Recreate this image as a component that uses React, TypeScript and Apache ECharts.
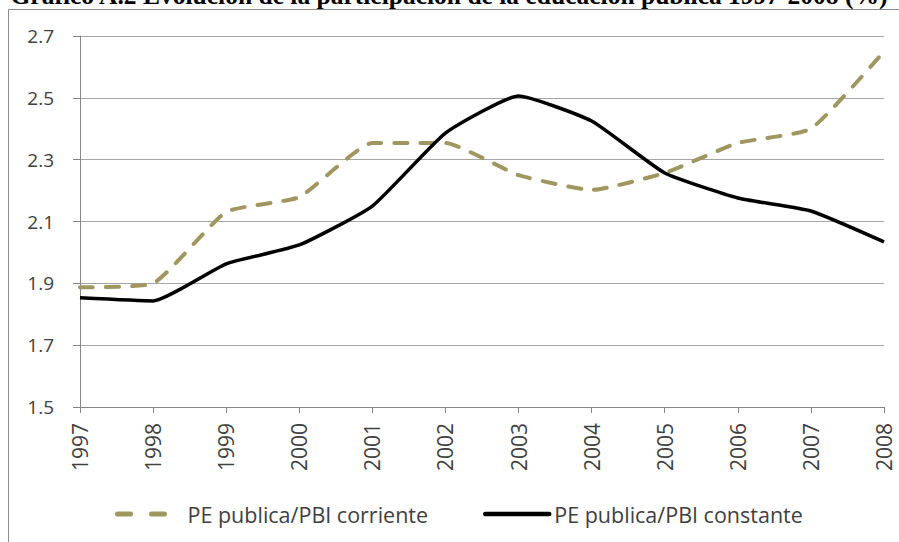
import React, { useEffect, useRef } from "react";
import * as echarts from "echarts";

const years = ["1997", "1998", "1999", "2000", "2001", "2002", "2003", "2004", "2005", "2006", "2007", "2008"];
const corriente = [1.887, 1.9, 2.131, 2.179, 2.354, 2.354, 2.25, 2.202, 2.257, 2.354, 2.4, 2.65];
const constante = [1.853, 1.843, 1.963, 2.024, 2.15, 2.386, 2.506, 2.425, 2.257, 2.176, 2.134, 2.034];
const seriesNames = ["PE publica/PBI corriente", "PE publica/PBI constante"];
const title = "Gráfico A.2 Evolución de la participación de la educación pública 1997-2008 (%)";

const FONT = "'Open Sans', sans-serif";
const GOLD = "#a0965f";

export default function App() {
  const ref = useRef<HTMLDivElement>(null);
  useEffect(() => {
    if (!ref.current) return;
    const chart = echarts.init(ref.current, null, { renderer: "svg" });
    chart.setOption({
      animation: false,
      backgroundColor: "#ffffff",
      grid: { left: 80, right: 15, top: 36, bottom: 135 },
      graphic: [
        {
          type: "text",
          x: 449,
          y: 8,
          style: {
            text: title,
            font: "bold 25.5px 'Liberation Serif', serif",
            fill: "#000",
            align: "center",
            verticalAlign: "bottom",
          },
        },
        {
          type: "rect",
          shape: { x: 8.5, y: 9.5, width: 1000, height: 1000 },
          style: { fill: "none", stroke: "#8c8c8c", lineWidth: 1 },
          silent: true,
        },
      ],
      legend: [
        {
          data: [seriesNames[0]],
          left: 110,
          top: 498,
          itemWidth: 51,
          itemHeight: 26,
          itemStyle: { opacity: 0 },
          lineStyle: { type: [13, 21], cap: "round", width: 5, color: GOLD },
          textStyle: { fontFamily: FONT, fontSize: 21.5, color: "#404040", padding: [0, 0, 0, 14] },
        },
        {
          data: [seriesNames[1]],
          left: 478,
          top: 498,
          itemWidth: 64,
          itemHeight: 26,
          itemStyle: { opacity: 0 },
          lineStyle: { width: 4.5, color: "#000", cap: "round" },
          textStyle: { fontFamily: FONT, fontSize: 21.5, color: "#404040", padding: [0, 0, 0, 0] },
        },
      ],
      xAxis: {
        type: "category",
        data: years,
        boundaryGap: false,
        axisLine: { lineStyle: { color: "#868686", width: 1 } },
        axisTick: { show: true, length: 6, alignWithLabel: true, lineStyle: { color: "#868686" } },
        axisLabel: { rotate: 90, margin: 16, fontFamily: FONT, fontSize: 21, color: "#404040" },
        splitLine: { show: false },
      },
      yAxis: {
        type: "value",
        min: 1.5,
        max: 2.7,
        interval: 0.2,
        axisLine: { show: true, lineStyle: { color: "#868686", width: 1 } },
        axisTick: { show: true, length: 7, lineStyle: { color: "#868686" } },
        axisLabel: {
          margin: 26,
          fontFamily: FONT,
          fontSize: 19,
          color: "#404040",
          formatter: (v: number) => v.toFixed(1),
        },
        splitLine: { show: true, lineStyle: { color: "#a6a6a6", width: 1 } },
      },
      series: [
        {
          name: seriesNames[0],
          type: "line",
          data: corriente,
          symbol: "none",
          smooth: 0.15,
          lineStyle: { color: GOLD, width: 4, type: [13, 13], cap: "round" },
          itemStyle: { color: GOLD },
        },
        {
          name: seriesNames[1],
          type: "line",
          data: constante,
          symbol: "none",
          smooth: 0.15,
          lineStyle: { color: "#000000", width: 3.5 },
          itemStyle: { color: "#000000" },
        },
      ],
    });
    return () => chart.dispose();
  }, []);
  return (
    <div
      ref={ref}
      style={{ position: "absolute", left: 0, top: 0, width: 899, height: 542 }}
    />
  );
}
